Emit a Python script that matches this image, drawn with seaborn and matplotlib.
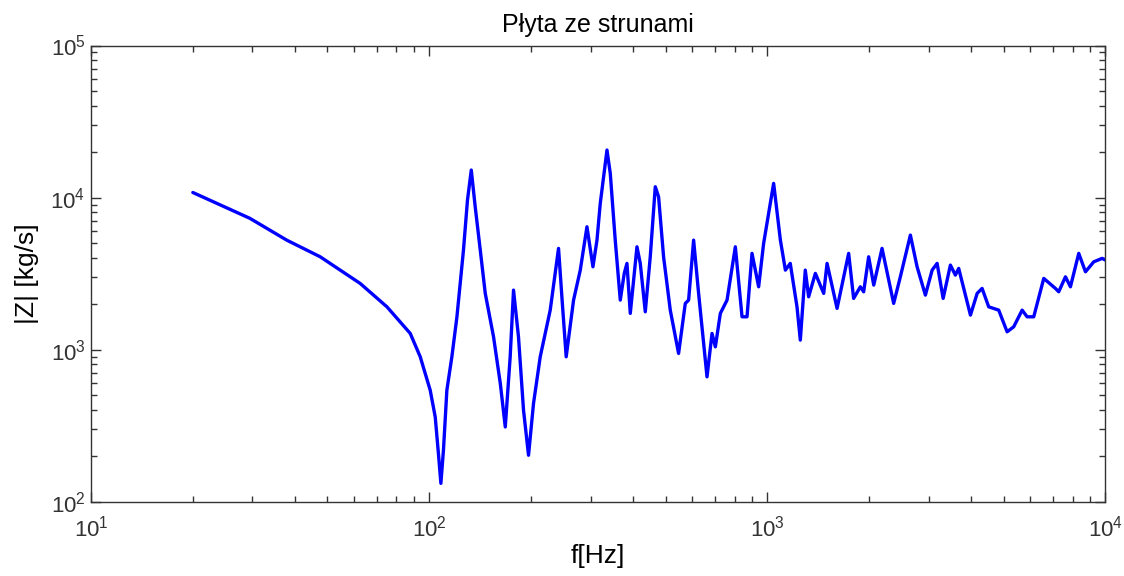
import numpy as np
import pandas as pd
import matplotlib
matplotlib.use("Agg")
import matplotlib.pyplot as plt
import seaborn as sns
from matplotlib.ticker import LogLocator

# frequency [Hz] and impedance magnitude [kg/s]
freq = [20, 29.5, 37.9, 47.6, 62.5, 75.0, 87.9, 94.1, 100.7, 104.2,
        106.5, 108.3, 110.2, 112.8, 116.7, 120.8, 126.3, 129.8, 133.2, 136.8,
        141.6, 146.5, 155.0, 162.3, 167.9, 173.6, 177.6, 183.7, 190.1, 196.7,
        203.5, 213.0, 228.0, 241.3, 247.0, 254.2, 267.3, 279.8, 292.8, 305.0,
        313.5, 320.6, 335.6, 343.2, 355.0, 367.4, 377.5, 384.5, 393.3, 411.6,
        421.0, 435.6, 450.6, 466.3, 476.9, 493.4, 516.4, 546.5, 572.0, 585.1,
        605.4, 626.3, 663.2, 686.2, 702.0, 726.2, 760.1, 804.3, 841.8, 870.9,
        901.0, 942.6, 975.2, 1009, 1044, 1093, 1131, 1169, 1224, 1252,
        1295, 1325, 1387, 1468, 1502, 1608, 1740, 1800, 1884, 1927,
        1994, 2064, 2184, 2364, 2474, 2649, 2773, 2934, 3072, 3178,
        3311, 3479, 3599, 3681, 3988, 4174, 4317, 4516, 4834, 5119,
        5354, 5670, 5866, 6136, 6570, 7112, 7274, 7616, 7879, 8337,
        8728, 9235, 9776, 10000]
impedance = [10800, 7300, 5250, 4080, 2725, 1912, 1278, 897, 541, 361,
             207, 132, 218, 541, 897, 1644, 4515, 9630, 15170, 8700,
             4515, 2343, 1214, 599, 310, 897, 2463, 1214, 400, 202,
             443, 897, 1819, 4633, 2182, 897, 2117, 3334, 6426, 3505,
             5250, 9160, 20540, 14430, 5250, 2117, 3172, 3691, 1731, 4746,
             3691, 1773, 4080, 11780, 10120, 4080, 1819, 944, 2013, 2117,
             5250, 2343, 662, 1278, 1043, 1731, 2117, 4746, 1644, 1644,
             4296, 2590, 4997, 7872, 12400, 5250, 3334, 3691, 1912, 1155,
             3334, 2226, 3172, 2343, 3691, 1867, 4296, 2172, 2590, 2401,
             4080, 2657, 4633, 2013, 3012, 5666, 3505, 2283, 3334, 3691,
             2172, 3597, 3091, 3421, 1687, 2343, 2527, 1912, 1819, 1310,
             1413, 1819, 1644, 1644, 2940, 2527, 2401, 3012, 2590, 4296,
             3250, 3781, 3981, 3880]

df = pd.DataFrame({"f": freq, "Z": impedance})

sns.set_style("ticks")
plt.rcParams["font.family"] = ["Liberation Sans", "DejaVu Sans"]

fig = plt.figure(figsize=(11.24, 5.76), dpi=100)
ax = fig.add_axes([0.081, 0.129, 0.9025, 0.792])

sns.lineplot(data=df, x="f", y="Z", estimator=None, sort=True,
             color="#0000ff", linewidth=2.4, ax=ax)

ax.set_xscale("log")
ax.set_yscale("log")
ax.set_xlim(10, 1e4)
ax.set_ylim(1e2, 1e5)
ax.xaxis.set_major_locator(LogLocator(base=10, numticks=10))
ax.yaxis.set_major_locator(LogLocator(base=10, numticks=10))
ax.xaxis.set_minor_locator(LogLocator(base=10, subs=np.arange(2, 10), numticks=20))
ax.yaxis.set_minor_locator(LogLocator(base=10, subs=np.arange(2, 10), numticks=20))

for s in ax.spines.values():
    s.set_visible(True)
    s.set_color("#333333")
    s.set_linewidth(1.0)

ax.tick_params(which="both", direction="in", top=True, right=True,
               color="#333333", labelcolor="#333333", labelsize=16)
ax.tick_params(which="major", length=7, width=1.0)
ax.tick_params(which="minor", length=4, width=1.0)
ax.tick_params(axis="x", which="major", pad=10)
ax.tick_params(axis="y", which="major", pad=4)

ax.set_title("Płyta ze strunami", fontsize=18, pad=10, color="black")
ax.set_xlabel("f[Hz]", fontsize=19, labelpad=2, color="black")
ax.set_ylabel("|Z| [kg/s]", fontsize=19, labelpad=8, color="black")

fig.savefig("out.png", dpi=100)
